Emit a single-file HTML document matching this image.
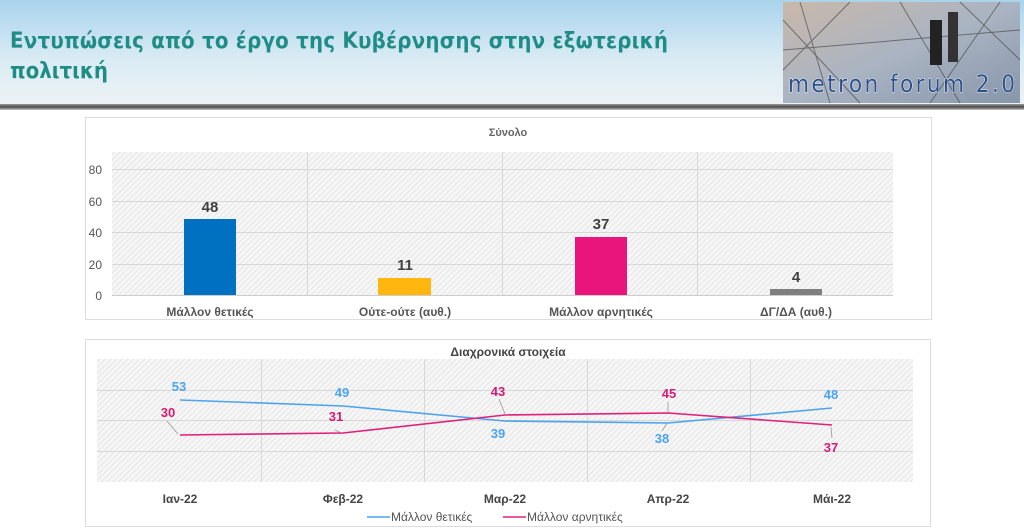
<!DOCTYPE html>
<html><head><meta charset="utf-8"><style>
html,body{margin:0;padding:0;width:1024px;height:529px;overflow:hidden;background:#fff;font-family:"Liberation Sans","DejaVu Sans",sans-serif;}
</style></head><body>
<svg width="1024" height="529" xmlns="http://www.w3.org/2000/svg" style="position:absolute;left:0;top:0">
<defs>
<linearGradient id="hdr" x1="0" y1="0" x2="0" y2="1">
<stop offset="0" stop-color="#a9d3ec"/><stop offset="0.55" stop-color="#d9ebf4"/><stop offset="1" stop-color="#eef2f4"/></linearGradient>
<linearGradient id="bar" x1="0" y1="0" x2="0" y2="1">
<stop offset="0" stop-color="#9a9a9a"/><stop offset="0.5" stop-color="#4a4a4a"/><stop offset="1" stop-color="#c8c8c8"/></linearGradient>
<pattern id="hatch" width="4" height="4" patternUnits="userSpaceOnUse" patternTransform="rotate(45)">
<rect width="4" height="4" fill="#f6f6f6"/><line x1="0" y1="0" x2="0" y2="4" stroke="#e0e0e0" stroke-width="1.5"/></pattern>
<linearGradient id="logo" x1="0" y1="0" x2="1" y2="1">
<stop offset="0" stop-color="#c9b8ab"/><stop offset="0.5" stop-color="#aab4c2"/><stop offset="1" stop-color="#8796aa"/></linearGradient>
</defs>
<rect x="0" y="0" width="1024" height="106" fill="url(#hdr)"/>
<rect x="0" y="104" width="1024" height="6" fill="url(#bar)"/>
<text x="10" y="48" font-size="22" font-weight="bold" fill="#1f8c86" font-family="DejaVu Sans Condensed, DejaVu Sans, sans-serif" textLength="658">Εντυπώσεις από το έργο της Κυβέρνησης στην εξωτερική</text>
<text x="10" y="78" font-size="22" font-weight="bold" fill="#1f8c86" font-family="DejaVu Sans Condensed, DejaVu Sans, sans-serif">πολιτική</text>
<rect x="783" y="2" width="237" height="101" fill="url(#logo)"/>
<g stroke="#3c3c3c" stroke-width="1" opacity="0.6">
<line x1="783" y1="20" x2="860" y2="103"/><line x1="800" y1="2" x2="830" y2="103"/><line x1="850" y1="2" x2="783" y2="70"/>
<line x1="900" y1="2" x2="960" y2="103"/><line x1="960" y1="2" x2="1020" y2="60"/><line x1="1000" y1="2" x2="930" y2="103"/>
<line x1="783" y1="50" x2="1020" y2="30"/></g>
<rect x="930" y="20" width="12" height="45" fill="#222"/><rect x="948" y="12" width="10" height="50" fill="#333"/>
<text x="788" y="92" font-size="24" fill="#2a4f8a" stroke="#fff" stroke-width="0.8" paint-order="stroke" font-family="DejaVu Sans Condensed, DejaVu Sans, sans-serif" textLength="227">metron forum 2.0</text>

<!-- top panel -->
<rect x="85.5" y="117.5" width="846" height="202" fill="#fff" stroke="#ddd"/>
<text x="508" y="136" font-size="11" font-weight="bold" fill="#666" text-anchor="middle">Σύνολο</text>
<rect x="112" y="152" width="781" height="143" fill="url(#hatch)"/>
<g stroke="#d8d8d8" stroke-width="1">
<line x1="112" y1="169.5" x2="893" y2="169.5"/><line x1="112" y1="201.5" x2="893" y2="201.5"/><line x1="112" y1="232.5" x2="893" y2="232.5"/><line x1="112" y1="264.5" x2="893" y2="264.5"/>
<line x1="307.5" y1="152" x2="307.5" y2="295"/><line x1="502.5" y1="152" x2="502.5" y2="295"/><line x1="697.5" y1="152" x2="697.5" y2="295"/></g>
<line x1="112" y1="295.5" x2="893" y2="295.5" stroke="#ccc"/>
<g font-size="12" fill="#555" text-anchor="end">
<text x="102" y="174">80</text><text x="102" y="206">60</text><text x="102" y="237">40</text><text x="102" y="269">20</text><text x="102" y="300">0</text></g>
<rect x="184" y="219" width="52" height="76" fill="#0070c0"/>
<rect x="378" y="278" width="53" height="17" fill="#ffb70f"/>
<rect x="575" y="237" width="52" height="58" fill="#e9147c"/>
<rect x="770" y="289" width="52" height="6" fill="#7f7f7f"/>
<g font-size="15" font-weight="bold" fill="#404040" text-anchor="middle">
<text x="210" y="212">48</text><text x="405" y="270">11</text><text x="601" y="229">37</text><text x="796" y="282">4</text></g>
<g font-size="12" font-weight="bold" fill="#555" text-anchor="middle">
<text x="210" y="316">Μάλλον θετικές</text><text x="405" y="316">Ούτε-ούτε (αυθ.)</text><text x="601" y="316">Μάλλον αρνητικές</text><text x="796" y="316">ΔΓ/ΔΑ (αυθ.)</text></g>

<!-- bottom panel -->
<rect x="85.5" y="339.5" width="845" height="187" fill="#fff" stroke="#ddd"/>
<text x="508" y="356" font-size="12" font-weight="bold" fill="#444" text-anchor="middle">Διαχρονικά στοιχεία</text>
<rect x="97" y="359" width="816" height="123" fill="url(#hatch)"/>
<g stroke="#d8d8d8" stroke-width="1">
<line x1="97" y1="390.5" x2="913" y2="390.5"/><line x1="97" y1="420.5" x2="913" y2="420.5"/><line x1="97" y1="451.5" x2="913" y2="451.5"/>
<line x1="261.5" y1="359" x2="261.5" y2="482"/><line x1="424.5" y1="359" x2="424.5" y2="482"/><line x1="587.5" y1="359" x2="587.5" y2="482"/><line x1="750.5" y1="359" x2="750.5" y2="482"/></g>
<g stroke="#999" stroke-width="0.8" fill="none">
<path d="M167 421 L178 434"/><path d="M335 430 L341 433"/><path d="M499 399 L505 414"/><path d="M668 402 L668 412"/><path d="M831 427 L832 438"/><path d="M662 431 L667 423"/></g>
<polyline points="180,400 343,406 505,421 668,423 832,408" fill="none" stroke="#4ca4ee" stroke-width="1.6"/>
<polyline points="180,435 343,433 505,415 668,413 832,425" fill="none" stroke="#e0207a" stroke-width="1.6"/>
<g font-size="13" font-weight="bold" text-anchor="middle">
<text x="179" y="391" fill="#4ca4ee">53</text><text x="342" y="397" fill="#4ca4ee">49</text><text x="498" y="438" fill="#4ca4ee">39</text><text x="662" y="443" fill="#4ca4ee">38</text><text x="831" y="399" fill="#4ca4ee">48</text>
<text x="168" y="417" fill="#d81b72">30</text><text x="336" y="421" fill="#d81b72">31</text><text x="498" y="396" fill="#d81b72">43</text><text x="669" y="398" fill="#d81b72">45</text><text x="831" y="452" fill="#d81b72">37</text></g>
<g font-size="12" font-weight="bold" fill="#444" text-anchor="middle">
<text x="180" y="503">Ιαν-22</text><text x="343" y="503">Φεβ-22</text><text x="505" y="503">Μαρ-22</text><text x="668" y="503">Απρ-22</text><text x="832" y="503">Μάι-22</text></g>
<line x1="367" y1="517" x2="390" y2="517" stroke="#4ca4ee" stroke-width="1.6"/>
<text x="391" y="521" font-size="12" fill="#555">Μάλλον θετικές</text>
<line x1="503" y1="517" x2="526" y2="517" stroke="#e0207a" stroke-width="1.6"/>
<text x="527" y="521" font-size="12" fill="#555">Μάλλον αρνητικές</text>
</svg>
</body></html>
